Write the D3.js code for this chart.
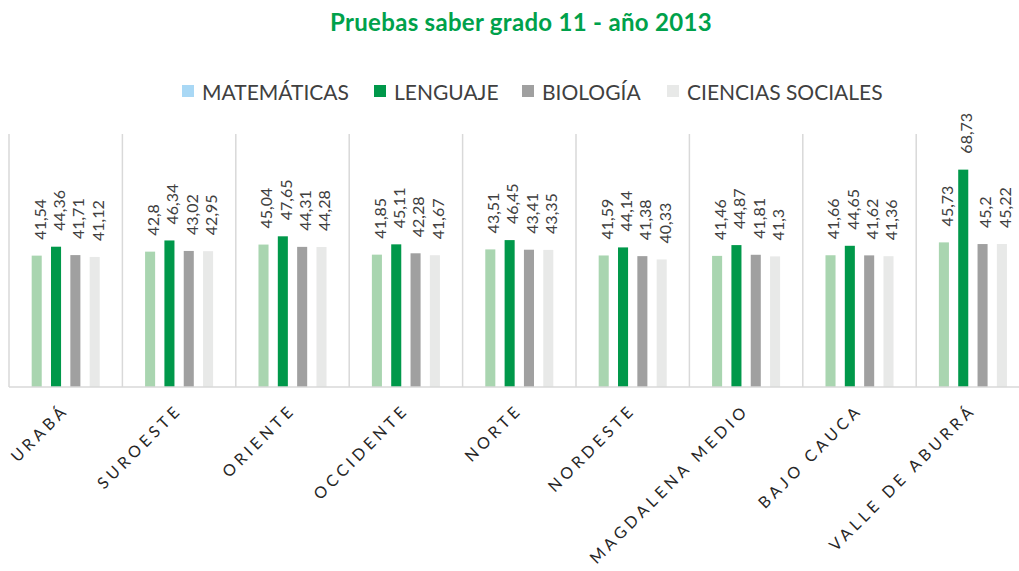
<!DOCTYPE html>
<html lang="es">
<head>
  <meta charset="UTF-8">
  <script src="https://d3js.org/d3.v7.min.js"></script>
  <title>Pruebas saber grado 11</title>
  <style>
    body { margin: 0; background: #fff; }
    text { font-family: Lato, "Open Sans", sans-serif; }
  </style>
</head>
<body>
  <svg width="1019" height="571"></svg>
  <script>
    // datos
    var regiones = ["URABÁ", "SUROESTE", "ORIENTE", "OCCIDENTE", "NORTE", "NORDESTE", "MAGDALENA MEDIO", "BAJO CAUCA", "VALLE DE ABURRÁ"];
    var series = ["MATEMÁTICAS", "LENGUAJE", "BIOLOGÍA", "CIENCIAS SOCIALES"];
    var matematicas = [41.54, 42.8, 45.04, 41.85, 43.51, 41.59, 41.46, 41.66, 45.73];
    var lenguaje = [44.36, 46.34, 47.65, 45.11, 46.45, 44.14, 44.87, 44.65, 68.73];
    var biologia = [41.71, 43.02, 44.31, 42.28, 43.41, 41.38, 41.81, 41.62, 45.2];
    var sociales = [41.12, 42.95, 44.28, 41.67, 43.35, 40.33, 41.3, 41.36, 45.22];

    var valores = [matematicas, lenguaje, biologia, sociales];
    var colores = ["#a9d5b0", "#00984a", "#a0a0a0", "#e8e9e8"];
    var coloresLeyenda = ["#a9d8f5", "#00984a", "#a0a0a0", "#e8e9e8"];

    var svg = d3.select("svg");
    var margen = {top: 134, bottom: 387, left: 9};

    // escalas
    var x0 = d3.scaleBand().domain(regiones).range([margen.left, margen.left + 9 * 113.4]);
    var x1 = d3.scaleBand().domain(series)
      .range([x0.bandwidth() * 0.2, x0.bandwidth() * 0.8])
      .paddingInner(0.48);
    var y = d3.scaleLinear().domain([0, 80]).range([margen.bottom, margen.top]);

    // titulo
    svg.append("text")
      .attr("x", 521).attr("y", 31)
      .attr("text-anchor", "middle")
      .attr("font-size", 24).attr("font-weight", "bold")
      .attr("letter-spacing", 0.3)
      .attr("fill", "#00a14b")
      .text("Pruebas saber grado 11 - año 2013");

    // leyenda
    var posLeyenda = [182, 374, 522, 667];
    var ley = svg.selectAll(".ley").data(series).enter().append("g")
      .attr("transform", function(d, i){ return "translate(" + posLeyenda[i] + ",85)"; });
    ley.append("rect").attr("width", 12).attr("height", 12)
      .attr("fill", function(d, i){ return coloresLeyenda[i]; });
    ley.append("text").attr("x", 20).attr("y", 15)
      .attr("font-size", 21).attr("fill", "#404040")
      .text(function(d){ return d; });

    // separadores verticales
    var seps = regiones.map(function(r){ return x0(r); });
    svg.selectAll(".sep").data(seps).enter().append("line")
      .attr("x1", function(d){ return d; }).attr("x2", function(d){ return d; })
      .attr("y1", margen.top).attr("y2", margen.bottom)
      .attr("stroke", "#d9d9d9").attr("stroke-width", 1.5);

    // barras
    var grupos = svg.selectAll(".grupo").data(regiones).enter().append("g")
      .attr("transform", function(d){ return "translate(" + x0(d) + ",0)"; });

    series.forEach(function(s, j){
      grupos.append("rect")
        .attr("x", x1(s))
        .attr("width", x1.bandwidth())
        .attr("y", function(d, i){ return y(valores[j][i]); })
        .attr("height", function(d, i){ return y(0) - y(valores[j][i]); })
        .attr("fill", colores[j]);

      grupos.append("text")
        .attr("transform", function(d, i){
          return "translate(" + (x1(s) + x1.bandwidth() / 2) + "," + (y(valores[j][i]) - 16) + ") rotate(-90)";
        })
        .attr("dy", "0.55em")
        .attr("font-size", 16).attr("fill", "#404040")
        .text(function(d, i){ return String(valores[j][i]).replace(".", ","); });
    });

    // eje x
    svg.append("line")
      .attr("x1", margen.left).attr("x2", 1019)
      .attr("y1", margen.bottom).attr("y2", margen.bottom)
      .attr("stroke", "#d9d9d9").attr("stroke-width", 1.5);

    svg.selectAll(".etq").data(regiones).enter().append("text")
      .attr("transform", function(d){
        return "translate(" + (x0(d) + x0.bandwidth() / 2 + 4) + ",411) rotate(-45)";
      })
      .attr("text-anchor", "end")
      .attr("font-size", 16).attr("letter-spacing", 4)
      .attr("fill", "#262626")
      .text(function(d){ return d; });
  </script>
</body>
</html>
